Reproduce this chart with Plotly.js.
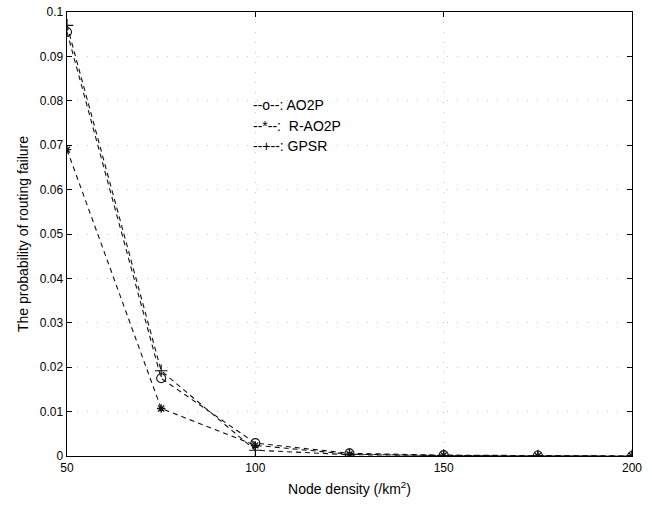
<!DOCTYPE html>
<html><head><meta charset="utf-8">
<script src="https://cdn.plot.ly/plotly-3.0.1.min.js"></script>
<style>html,body{margin:0;padding:0;background:#fff;}#chart{width:652px;height:506px;}</style>
</head><body><div id="chart"></div>
<script>
const density = [50, 75, 100, 125, 150, 175, 200];
const ao2p  = [0.0955, 0.0175, 0.0029, 0.0006, 0.0002, 0.0001, 0.0000];
const rao2p = [0.0690, 0.0107, 0.0024, 0.0004, 0.0001, 0.0000, 0.0000];
const gpsr  = [0.0970, 0.0192, 0.0013, 0.0003, 0.0001, 0.0000, 0.0000];
const xTicks = [50, 100, 150, 200];
const yTicks = [0, 0.01, 0.02, 0.03, 0.04, 0.05, 0.06, 0.07, 0.08, 0.09, 0.1];
const yTickText = ['0','0.01','0.02','0.03','0.04','0.05','0.06','0.07','0.08','0.09','0.1'];
const legendLines = ['--o--: AO2P', '--*--:  R-AO2P', '--+--: GPSR'];

const lineStyle = {color: '#111', width: 1.1, dash: '5px,4px'};
const traces = [
  {x: density, y: ao2p, mode: 'lines+markers', line: lineStyle,
   marker: {symbol: 'circle-open', size: 9, color: '#111', line: {width: 1.1}}},
  {x: density, y: rao2p, mode: 'lines+markers', line: lineStyle,
   marker: {symbol: 'asterisk-open', size: 7, color: '#111', line: {width: 1.3}}},
  {x: density, y: gpsr, mode: 'lines+markers', line: lineStyle,
   marker: {symbol: 'cross-thin-open', size: 9, color: '#111', line: {width: 1.2}}}
];

const fnt = {family: 'Liberation Sans, Arial, sans-serif', size: 12, color: '#000'};
const gridStyle = {showgrid: true, gridcolor: '#c8c8c8', griddash: '1px,9px', gridwidth: 1};
const layout = {
  width: 652, height: 506,
  margin: {l: 67, r: 20, t: 12, b: 50},
  paper_bgcolor: '#fff', plot_bgcolor: '#fff',
  showlegend: false,
  font: fnt,
  xaxis: Object.assign({
    range: [50, 200], tickvals: xTicks, ticktext: xTicks.map(String),
    ticks: 'inside', ticklen: 5, tickcolor: '#000', mirror: 'ticks',
    showline: true, linecolor: '#000', linewidth: 1.4,
    zeroline: false, tickfont: fnt,
    title: {text: 'Node density (/km<sup>2</sup>)', font: {family: fnt.family, size: 14, color: '#000'}, standoff: 10}
  }, gridStyle),
  yaxis: Object.assign({
    range: [0, 0.1], tickvals: yTicks, ticktext: yTickText,
    ticks: 'inside', ticklen: 5, tickcolor: '#000', mirror: 'ticks',
    showline: true, linecolor: '#000', linewidth: 1.4,
    zeroline: false, tickfont: fnt,
    title: {text: 'The probability of routing failure', font: {family: fnt.family, size: 14, color: '#000'}, standoff: 8}
  }, gridStyle),
  annotations: legendLines.map((t, i) => ({
    xref: 'paper', yref: 'paper', x: 0.325, y: 0.790 - i * 0.046,
    xanchor: 'left', yanchor: 'middle', showarrow: false, text: t,
    font: {family: fnt.family, size: 14, color: '#000'}
  }))
};
Plotly.newPlot('chart', traces, layout, {displayModeBar: false, staticPlot: true});
</script></body></html>
